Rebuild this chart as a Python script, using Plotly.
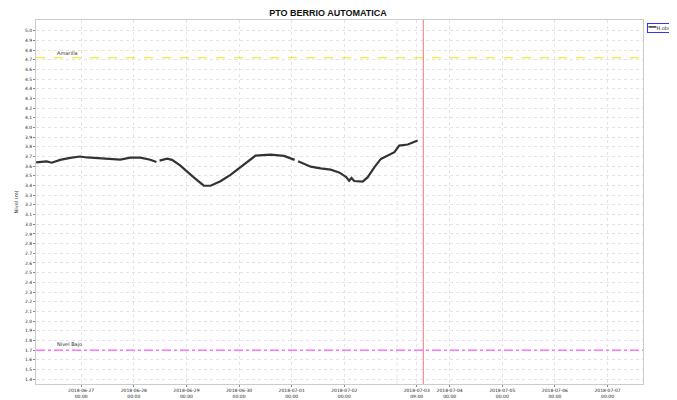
import plotly.graph_objects as go

# observed level (m) - None = gap in the record
fechas = ["2018-06-26 03:30", "2018-06-26 08:15", "2018-06-26 10:35", "2018-06-26 14:25",
          "2018-06-26 19:00", "2018-06-26 23:30", "2018-06-27 02:35", "2018-06-27 08:40",
          "2018-06-27 14:45", "2018-06-27 17:50", "2018-06-27 22:25", "2018-06-28 03:00",
          "2018-06-28 07:30", "2018-06-28 10:20", "2018-06-28 11:00", "2018-06-28 11:45",
          "2018-06-28 15:10", "2018-06-28 17:25", "2018-06-28 21:15", "2018-06-29 03:20",
          "2018-06-29 07:55", "2018-06-29 11:00", "2018-06-29 15:30", "2018-06-29 20:05",
          "2018-06-29 21:35", "2018-06-30 02:10", "2018-06-30 07:30", "2018-06-30 14:25",
          "2018-06-30 20:30", "2018-07-01 01:20", "2018-07-01 02:10", "2018-07-01 02:55",
          "2018-07-01 08:40", "2018-07-01 13:10", "2018-07-01 17:45", "2018-07-01 21:35",
          "2018-07-02 00:45", "2018-07-02 02:10", "2018-07-02 03:15", "2018-07-02 04:30",
          "2018-07-02 08:20", "2018-07-02 10:35", "2018-07-02 13:40", "2018-07-02 16:40",
          "2018-07-02 22:50", "2018-07-03 01:00", "2018-07-03 04:55", "2018-07-03 09:25"]
h_obs = [3.64, 3.65, 3.636, 3.665,
         3.685, 3.70, 3.69, 3.68,
         3.665, 3.667, 3.688, 3.688,
         3.667, 3.644, None, 3.657,
         3.678, 3.665, 3.605, 3.484,
         3.40, 3.398, 3.445, 3.51,
         3.536, 3.623, 3.709, 3.72,
         3.706, 3.665, None, 3.65,
         3.595, 3.577, 3.564, 3.536,
         3.49, 3.45, 3.478, 3.447,
         3.44, 3.484, 3.588, 3.675,
         3.744, 3.813, 3.824, 3.865]

nivel_amarilla = 4.72
nivel_bajo = 1.70
fecha_actual = "2018-07-03 12:00"

tick_fechas = ["2018-06-27 00:00", "2018-06-28 00:00", "2018-06-29 00:00", "2018-06-30 00:00",
               "2018-07-01 00:00", "2018-07-02 00:00", "2018-07-03 09:00", "2018-07-04 00:00",
               "2018-07-05 00:00", "2018-07-06 00:00", "2018-07-07 00:00"]
tick_textos = [t.replace(" ", "<br>") for t in tick_fechas]
tick_niveles = [round(1.4 + 0.1 * i, 1) for i in range(37)]

x_ini = "2018-06-26 03:25"
x_fin = "2018-07-07 16:10"

fig = go.Figure()
fig.add_trace(go.Scatter(x=fechas, y=h_obs, mode="lines", name="H.obs", showlegend=False,
                         line=dict(color="#333333", width=2.2), connectgaps=False))

#alert lines
fig.add_shape(type="line", xref="paper", x0=0, x1=1, y0=nivel_amarilla, y1=nivel_amarilla,
              line=dict(color="#f0e800", width=1, dash="dash"))
fig.add_shape(type="line", xref="paper", x0=0, x1=1, y0=nivel_bajo, y1=nivel_bajo,
              line=dict(color="#ff33ff", width=1, dash="dashdot"))
fig.add_shape(type="line", yref="paper", x0="2018-07-03 00:00", x1="2018-07-03 00:00", y0=0, y1=1,
              line=dict(color="#e4e4e4", width=1, dash="dot"), layer="below")
fig.add_shape(type="line", yref="paper", x0=fecha_actual, x1=fecha_actual, y0=0, y1=1,
              line=dict(color="#f07878", width=1))
fig.add_annotation(x="2018-06-26 12:00", y=nivel_amarilla, text="Amarilla", showarrow=False,
                   xanchor="left", yanchor="bottom", font=dict(size=5, color="#333"))
fig.add_annotation(x="2018-06-26 12:00", y=nivel_bajo, text="Nivel Bajo", showarrow=False,
                   xanchor="left", yanchor="bottom", font=dict(size=5, color="#333"))

#small legend box on the right
fig.add_annotation(xref="paper", yref="paper", x=1.0066, y=0.993, xanchor="left", yanchor="top",
                   text="\u2003\u2002H.obs", showarrow=False, bordercolor="#3333ff", borderwidth=1,
                   borderpad=1, font=dict(size=5, color="#333"))
fig.add_shape(type="line", xref="paper", yref="paper", x0=1.009, x1=1.022, y0=0.981, y1=0.981,
              line=dict(color="#333333", width=1.5))

# page body has an 8px margin, so the figure is a bit smaller than the window
fig.update_layout(
    width=669, height=392,
    margin=dict(l=28, r=34, t=12, b=16, autoexpand=False),
    paper_bgcolor="white", plot_bgcolor="white",
    font=dict(family="DejaVu Sans", size=5, color="#333"),
    title=dict(text="<b>PTO BERRIO AUTOMATICA</b>", x=0.481, xref="paper", xanchor="center",
               y=0.987, yanchor="middle",
               font=dict(size=9, color="#111", family="Liberation Sans")),
    showlegend=False,
)
fig.update_xaxes(range=[x_ini, x_fin], tickvals=tick_fechas, ticktext=tick_textos, tickangle=0,
                 showgrid=True, gridcolor="#e4e4e4", griddash="dot", ticks="outside", ticklen=2,
                 tickcolor="#888", showline=True, linecolor="#cccccc", linewidth=1, mirror=True,
                 zeroline=False, tickfont=dict(size=4.5, color="#222"))
fig.update_yaxes(range=[1.35, 5.11], tickvals=tick_niveles, tickformat=".1f",
                 showgrid=True, gridcolor="#e4e4e4", griddash="dot", ticks="outside", ticklen=2,
                 tickcolor="#888", showline=True, linecolor="#cccccc", linewidth=1, mirror=True,
                 zeroline=False, tickfont=dict(size=4.5, color="#222"),
                 title=dict(text="Nivel (m)", font=dict(size=5), standoff=6))

fig.write_html("out.html")
